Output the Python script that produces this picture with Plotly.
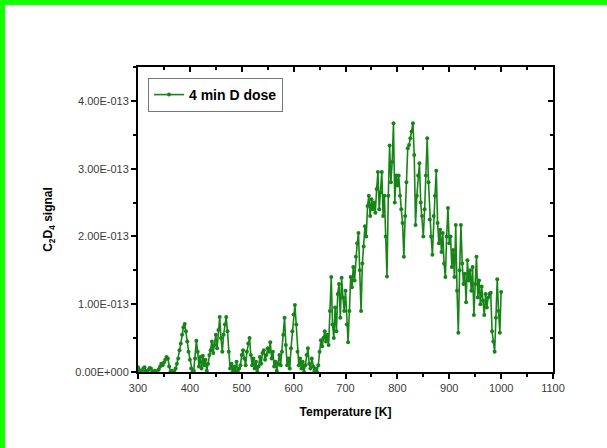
import numpy as np
import plotly.graph_objects as go

# Temperature grid [K] and C2D4 signal (units of 1e-13)
temp_start, temp_stop, temp_step = 300, 1000, 2.5

sig_300 = [0.07,0.03,0.0,0.01,0.05,0.07,0.02,0.0,0.03,0.06,0.05,0.01,0.0,0.02,0.0,0.01,0.04,0.08,0.12,0.1]
sig_350 = [0.14,0.18,0.22,0.2,0.08,0.0,0.02,0.0,0.01,0.05,0.12,0.2,0.32,0.42,0.55,0.66,0.71,0.6,0.45,0.3]
sig_400 = [0.18,0.05,0.0,0.02,0.2,0.46,0.3,0.08,0.22,0.05,0.24,0.1,0.18,0.02,0.12,0.25,0.32,0.45,0.28,0.4]
sig_450 = [0.55,0.35,0.62,0.81,0.5,0.3,0.55,0.7,0.81,0.6,0.3,0.05,0.12,0.0,0.08,0.02,0.15,0.0,0.05,0.1]
sig_500 = [0.25,0.32,0.2,0.1,0.3,0.42,0.5,0.25,0.1,0.2,0.05,0.15,0.0,0.08,0.22,0.12,0.28,0.32,0.18,0.25]
sig_550 = [0.35,0.3,0.44,0.2,0.3,0.08,0.15,0.02,0.12,0.25,0.1,0.3,0.55,0.8,0.4,0.1,0.2,0.05,0.35,0.6]
sig_600 = [0.85,0.99,0.7,0.3,0.1,0.2,0.05,0.15,0.0,0.1,0.25,0.35,0.12,0.05,0.2,0.08,0.02,0.05,0.0,0.1]
sig_650 = [0.3,0.47,0.38,0.5,0.6,0.45,0.55,0.4,0.9,1.4,0.7,0.5,0.95,0.6,1.15,1.3,0.8,1.39,1.1,0.9]
sig_700 = [1.2,0.7,0.44,0.9,1.4,1.25,1.55,1.35,1.7,1.9,2.05,1.5,0.9,1.6,1.85,2.15,2.0,2.45,2.6,2.3]
sig_750 = [2.55,2.4,2.5,2.35,2.7,2.95,2.4,2.65,2.95,2.3,2.6,2.0,1.41,2.6,3.34,2.8,3.1,3.67,2.5,2.9]
sig_800 = [2.75,2.9,2.6,2.4,2.2,1.7,2.3,2.8,3.3,3.35,3.45,3.55,3.67,3.2,2.17,2.6,2.9,3.08,2.5,2.3]
sig_850 = [2.0,2.4,2.9,3.45,2.8,2.25,2.0,1.73,2.3,2.6,2.97,2.2,1.9,2.1,1.77,2.05,1.6,1.4,2.0,2.42]
sig_900 = [1.9,2.0,1.55,1.8,1.4,2.17,1.2,0.58,1.5,2.17,1.6,1.3,1.45,1.03,1.65,1.35,1.5,1.2,1.55,0.84]
sig_950 = [1.3,1.7,1.1,1.35,1.0,1.26,1.05,0.84,1.15,0.95,1.1,1.15,1.17,0.6,0.45,0.3,0.8,1.37,0.9,0.58,1.18]

signal_scale = 1e-13
signal = np.array(sig_300 + sig_350 + sig_400 + sig_450 + sig_500 + sig_550 + sig_600 +
                  sig_650 + sig_700 + sig_750 + sig_800 + sig_850 + sig_900 + sig_950) * signal_scale
temperature = np.arange(temp_start, temp_stop + temp_step / 2, temp_step)[:len(signal)]

x_ticks = [300, 400, 500, 600, 700, 800, 900, 1000, 1100]
y_tick_vals = [0, 1e-13, 2e-13, 3e-13, 4e-13]
y_tick_text = ["0.00E+000", "1.00E-013", "2.00E-013", "3.00E-013", "4.00E-013"]
legend_name = "4 min D dose"

green = "#178417"
tick_font = dict(family="Liberation Sans, Arial", size=11, color="#3a3a3a")
title_font = dict(family="Liberation Sans, Arial", size=12, color="black")

fig = go.Figure()
fig.add_trace(go.Scatter(
    x=temperature, y=signal, mode="lines+markers", name=legend_name,
    line=dict(color=green, width=1.6), marker=dict(color=green, size=4),
))
# helper trace so the top/right axes are drawn
fig.add_trace(go.Scatter(x=[temp_start], y=[0], xaxis="x2", yaxis="y2",
                         mode="markers", marker=dict(opacity=0), showlegend=False,
                         hoverinfo="skip"))

W, H = 607, 448
L, R, T, B = 138, 54, 67, 76
pw, ph = W - L - R, H - T - B

axis_common = dict(showline=True, linecolor="black", linewidth=2, showgrid=False,
                   zeroline=False, tickcolor="black", tickwidth=2, ticklen=5)

fig.update_layout(
    width=W, height=H,
    margin=dict(l=L, r=R, t=T, b=B, pad=0),
    paper_bgcolor="white", plot_bgcolor="white",
    xaxis=dict(range=[300, 1100], tickvals=x_ticks, ticks="outside", mirror=True,
               tickfont=tick_font,
               minor=dict(ticks="outside", dtick=50, ticklen=3, tickwidth=2, tickcolor="black"),
               title=dict(text="<b>Temperature [K]</b>", standoff=14, font=title_font),
               **axis_common),
    yaxis=dict(range=[0, 4.5e-13], tickvals=y_tick_vals, ticktext=y_tick_text,
               ticks="outside", mirror=True, tickfont=tick_font,
               minor=dict(ticks="outside", dtick=0.5e-13, ticklen=3, tickwidth=2, tickcolor="black"),
               title=dict(text="<b>C<sub>2</sub>D<sub>4</sub> signal</b>", standoff=20,
                          font=title_font),
               **axis_common),
    xaxis2=dict(range=[300, 1100], overlaying="x", side="top", showline=False,
                showgrid=False, zeroline=False, tickvals=x_ticks, showticklabels=False,
                ticks="inside", ticklen=5, tickwidth=2, tickcolor="black",
                minor=dict(ticks="inside", dtick=50, ticklen=3, tickwidth=2, tickcolor="black")),
    yaxis2=dict(range=[0, 4.5e-13], overlaying="y", side="right", showline=False,
                showgrid=False, zeroline=False, tickvals=y_tick_vals, showticklabels=False,
                ticks="inside", ticklen=5, tickwidth=2, tickcolor="black",
                minor=dict(ticks="inside", dtick=0.5e-13, ticklen=3, tickwidth=2, tickcolor="black")),
    legend=dict(x=10 / pw, y=1 - 11 / ph, xanchor="left", yanchor="top",
                bgcolor="white", bordercolor="#777777", borderwidth=1,
                font=dict(family="Liberation Sans, Arial", size=14, color="black", weight="bold"),
                itemwidth=30, tracegroupgap=0),
    showlegend=True,
    shapes=[
        dict(type="rect", xref="paper", yref="paper",
             x0=-L / pw, x1=(W - L) / pw, y0=1 + (T - 5) / ph, y1=1 + T / ph,
             fillcolor="#14ff00", line=dict(width=0), layer="above"),
        dict(type="rect", xref="paper", yref="paper",
             x0=-L / pw, x1=-(L - 5) / pw, y0=-B / ph, y1=1 + T / ph,
             fillcolor="#14ff00", line=dict(width=0), layer="above"),
    ],
)
fig.write_html("out.html", config={"displayModeBar": False},
               post_script="document.body.style.margin='0';document.body.style.overflow='hidden';")
